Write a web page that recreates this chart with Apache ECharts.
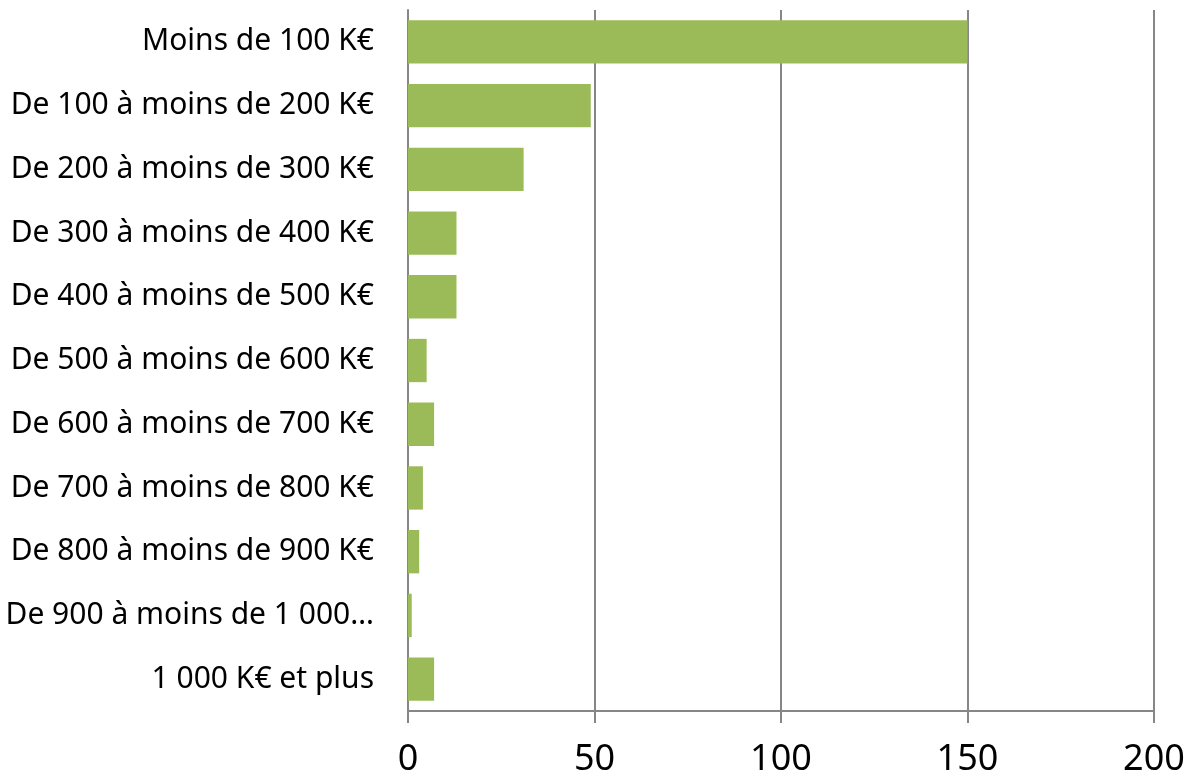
<!DOCTYPE html>
<html lang="fr">
<head>
    <meta charset="UTF-8">
    <title>Répartition par tranche</title>
    <script src="https://cdn.jsdelivr.net/npm/echarts@6/dist/echarts.min.js"></script>
    <style>
        html, body { margin: 0; padding: 0; background: #fff; }
    </style>
</head>
<body>
<div id="main" style="width: 1190px;height:781px;"></div>
<script type="text/javascript">
    // tranches (affichées telles quelles, la 10e est tronquée dans l'original)
    var categories = [
        'Moins de 100 K€',
        'De 100 à moins de 200 K€',
        'De 200 à moins de 300 K€',
        'De 300 à moins de 400 K€',
        'De 400 à moins de 500 K€',
        'De 500 à moins de 600 K€',
        'De 600 à moins de 700 K€',
        'De 700 à moins de 800 K€',
        'De 800 à moins de 900 K€',
        'De 900 à moins de 1 000…',
        '1 000 K€ et plus'
    ];
    var values = [150, 49, 31, 13, 13, 5, 7, 4, 3, 1, 7];
    var xTicks = [0, 50, 100, 150, 200];

    var myChart = echarts.init(document.getElementById('main'));
    var font = '"Noto Sans", "DejaVu Sans", sans-serif';

    var option = {
        animation: false,
        grid: { left: 408, right: 36, top: 10, bottom: 70 },
        xAxis: {
            type: 'value',
            min: xTicks[0],
            max: xTicks[xTicks.length - 1],
            interval: 50,
            axisLine: { show: true, lineStyle: { color: '#868686', width: 2 } },
            axisTick: { show: true, length: 12, lineStyle: { color: '#868686', width: 2 } },
            splitLine: { show: true, lineStyle: { color: '#868686', width: 2 } },
            axisLabel: { color: '#000', fontSize: 36, fontFamily: font, margin: 31 }
        },
        yAxis: {
            type: 'category',
            inverse: true,
            data: categories,
            axisLine: { show: true, lineStyle: { color: '#868686', width: 2 } },
            axisTick: { show: false },
            axisLabel: { color: '#000', fontSize: 30, fontFamily: font, margin: 34 }
        },
        series: [
            {
                type: 'bar',
                data: values,
                barCategoryGap: '32%',
                itemStyle: { color: '#9BBB59' }
            }
        ]
    };

    myChart.setOption(option);
</script>
</body>
</html>
